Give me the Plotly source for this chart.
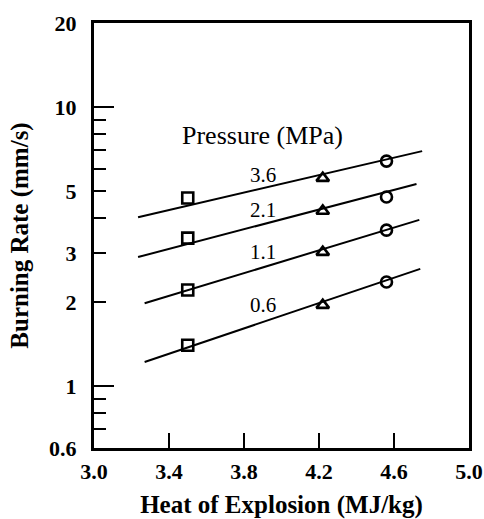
import math
import plotly.graph_objects as go

# ---- data ----
pressures = ["3.6", "2.1", "1.1", "0.6"]
heat_square = 3.50
heat_triangle = 4.22
heat_circle = 4.56
rate_square = [4.72, 3.39, 2.21, 1.40]
rate_triangle = [5.56, 4.24, 3.02, 1.95]
rate_circle = [6.40, 4.76, 3.62, 2.36]
fit_x_start = [3.235, 3.235, 3.27, 3.27]
fit_x_end = [4.75, 4.72, 4.735, 4.74]
fit_y_start = [4.03, 2.90, 1.98, 1.22]
fit_y_end = [6.95, 5.30, 3.94, 2.63]
label_x = 3.90
label_y = [5.70, 4.28, 3.02, 1.95]
legend_title_y = 7.9

x_ticks = [3.0, 3.4, 3.8, 4.2, 4.6, 5.0]
x_ticktext = ["3.0", "3.4", "3.8", "4.2", "4.6", "5.0"]
y_ticks = [0.6, 1, 2, 3, 5, 10, 20]
y_ticktext = ["0.6", "1", "2", "3", "5", "10", "20"]
y_minor = [0.7, 0.8, 0.9, 4, 6, 7, 8, 9]
y_decades = [1, 10]

FONT = "Liberation Serif"
fig = go.Figure()

for i in range(len(pressures)):
    fig.add_trace(go.Scatter(
        x=[fit_x_start[i], fit_x_end[i]], y=[fit_y_start[i], fit_y_end[i]],
        mode="lines", line=dict(color="black", width=2), showlegend=False,
        hoverinfo="skip"))

mk = dict(color="black", size=11, line=dict(color="black", width=2.6))
fig.add_trace(go.Scatter(x=[heat_square] * 4, y=rate_square, mode="markers",
                         marker=dict(symbol="square-open", **mk), showlegend=False))
fig.add_trace(go.Scatter(x=[heat_triangle] * 4, y=rate_triangle, mode="markers",
                         marker=dict(symbol="triangle-up-open", **mk), showlegend=False))
fig.add_trace(go.Scatter(x=[heat_circle] * 4, y=rate_circle, mode="markers",
                         marker=dict(symbol="circle-open", **mk), showlegend=False))
# invisible trace to carry the decade-tick overlay axis
fig.add_trace(go.Scatter(x=[3.0], y=[1], yaxis="y2", mode="markers",
                         marker=dict(opacity=0), showlegend=False, hoverinfo="skip"))

for p, ly in zip(pressures, label_y):
    fig.add_annotation(x=label_x, y=math.log10(ly), text=p, showarrow=False,
                       font=dict(family=FONT, size=21, color="black"))
fig.add_annotation(x=label_x, y=math.log10(legend_title_y), text="Pressure (MPa)",
                   showarrow=False, font=dict(family=FONT, size=26, color="black"))

fig.update_layout(
    width=484, height=519,
    margin=dict(l=94, r=15, t=23, b=71),
    plot_bgcolor="white", paper_bgcolor="white",
    font=dict(family=FONT, color="black"),
    xaxis=dict(range=[3.0, 5.0], tickvals=x_ticks, ticktext=x_ticktext,
               ticks="inside", ticklen=15, tickwidth=2, tickcolor="black",
               showline=True, linewidth=3, linecolor="black", mirror=True,
               showgrid=False, zeroline=False, automargin=False, ticklabelstandoff=2,
               tickfont=dict(family=FONT, size=22, color="black", weight="bold"),
               title=dict(text="<b>Heat of Explosion (MJ/kg)</b>",
                          font=dict(family=FONT, size=25, color="black"), standoff=16)),
    yaxis=dict(type="log", range=[math.log10(0.6), math.log10(20)],
               tickvals=y_ticks, ticktext=y_ticktext,
               ticks="inside", ticklen=12, tickwidth=2, tickcolor="black",
               minor=dict(tickvals=y_minor, ticks="inside", ticklen=12, tickwidth=2,
                          tickcolor="black", showgrid=False),
               showline=True, linewidth=3, linecolor="black", mirror=True,
               showgrid=False, zeroline=False, automargin=False, ticklabelstandoff=10,
               tickfont=dict(family=FONT, size=22, color="black", weight="bold"),
               title=dict(text="<b>Burning Rate (mm/s)</b>",
                          font=dict(family=FONT, size=25, color="black"), standoff=14)),
    yaxis2=dict(type="log", range=[math.log10(0.6), math.log10(20)], overlaying="y",
                side="left", tickvals=y_decades, ticks="inside", ticklen=20, tickwidth=2,
                tickcolor="black", showticklabels=False, showgrid=False, zeroline=False,
                showline=False, automargin=False),
)

fig.write_html("out.html", config={"displayModeBar": False},
               post_script="document.body.style.margin='0';")
